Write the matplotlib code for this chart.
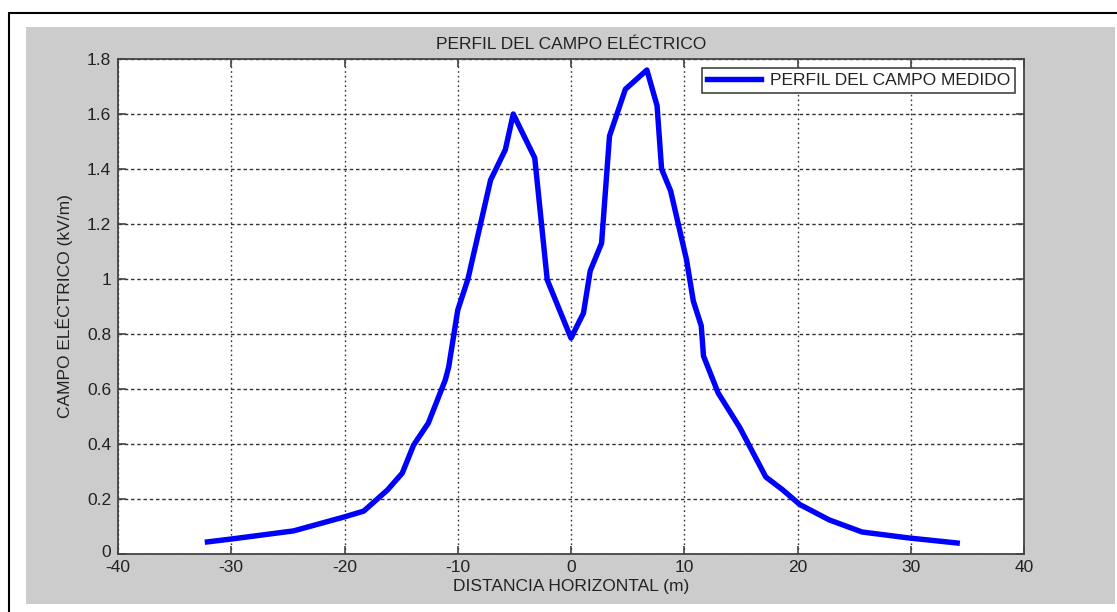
import numpy as np
import matplotlib
matplotlib.use("Agg")
import matplotlib.pyplot as plt
from matplotlib.patches import Rectangle
from matplotlib.transforms import ScaledTranslation

plt.rcParams['font.family'] = ['Liberation Sans', 'DejaVu Sans']
plt.rcParams['axes.unicode_minus'] = False

# Perfil medido del campo eléctrico bajo la línea
distancia = [-32.1, -29.9, -24.5, -20.0, -18.3, -16.2, -14.9, -13.9, -12.6, -11.1,
             -10.8, -10.0, -9.1, -7.1, -5.8, -5.1, -3.2, -2.1, 0.0, 1.1,
             1.7, 2.7, 3.4, 4.8, 6.7, 7.6, 8.0, 8.8, 10.2, 10.8,
             11.5, 11.7, 13.0, 14.9, 17.2, 18.7, 20.2, 22.8, 25.7, 29.9, 34.1]
campo = [0.044, 0.055, 0.084, 0.135, 0.156, 0.233, 0.294, 0.396, 0.476, 0.633,
         0.68, 0.887, 1.0, 1.36, 1.47, 1.60, 1.44, 0.997, 0.785, 0.876,
         1.03, 1.13, 1.52, 1.69, 1.76, 1.63, 1.40, 1.32, 1.07, 0.92,
         0.83, 0.72, 0.585, 0.46, 0.28, 0.233, 0.18, 0.124, 0.08, 0.058, 0.04]

xticks = [-40, -30, -20, -10, 0, 10, 20, 30, 40]
yticks = [0, 0.2, 0.4, 0.6, 0.8, 1.0, 1.2, 1.4, 1.6, 1.8]
yticklabels = ['0', '0.2', '0.4', '0.6', '0.8', '1', '1.2', '1.4', '1.6', '1.8']

fs = 12.5
txt = '#222222'

fig = plt.figure(figsize=(11.17, 6.12), dpi=100)
fig.patch.set_facecolor('white')

# marco negro y panel gris de fondo
fig.add_artist(Rectangle((9/1117, -0.05), 1.2, 1 - 13/612 + 0.05,
                         transform=fig.transFigure, facecolor='none',
                         edgecolor='black', linewidth=1.5, zorder=-10))
fig.add_artist(Rectangle((26/1117, 1 - 604/612), (1115 - 26)/1117, (604 - 27)/612,
                         transform=fig.transFigure, facecolor='#cccccc',
                         edgecolor='none', zorder=-9))

ax = fig.add_axes([118/1117, 1 - 554/612, (1024 - 118)/1117, (554 - 59)/612])
ax.set_facecolor('white')

ax.plot(distancia, campo, color='#0000ff', linewidth=3.9,
        label='PERFIL DEL CAMPO MEDIDO', solid_joinstyle='round', zorder=3)

ax.set_xlim(-40, 40)
ax.set_ylim(0, 1.8)
ax.set_xticks(xticks)
ax.set_yticks(yticks)
ax.set_yticklabels(yticklabels)

for s in ax.spines.values():
    s.set_color('#444444')
    s.set_linewidth(1.3)

ax.tick_params(direction='in', length=6, width=1.2, color='#444444',
               top=True, right=True, labelsize=fs, labelcolor=txt)
ax.tick_params(axis='x', pad=4)
ax.tick_params(axis='y', pad=5)

# el "0" del eje y sube un poco para no pisar el "-40"
lbl0 = ax.get_yticklabels()[0]
lbl0.set_transform(lbl0.get_transform() + ScaledTranslation(0, 3/100, fig.dpi_scale_trans))

ax.xaxis.grid(True, linestyle=(0, (1.2, 2.2)), color='#333333', linewidth=1.0)
ax.yaxis.grid(True, linestyle=(0, (2.5, 2.0)), color='#333333', linewidth=1.0)
ax.set_axisbelow(True)

ax.set_title('PERFIL DEL CAMPO ELÉCTRICO', fontsize=fs, color=txt, pad=7)
ax.set_xlabel('DISTANCIA HORIZONTAL (m)', fontsize=fs, color=txt, labelpad=3)
ax.set_ylabel('CAMPO ELÉCTRICO (kV/m)', fontsize=fs, color=txt, labelpad=10)

leg = ax.legend(loc='upper right', fontsize=fs, fancybox=False, framealpha=1,
                edgecolor='#444444', handlelength=3.1, borderaxespad=0.5,
                borderpad=0.3, handletextpad=0.5)
leg.get_frame().set_linewidth(1.2)
for t in leg.get_texts():
    t.set_color(txt)

fig.savefig('out.png', dpi=100, facecolor=fig.get_facecolor())
